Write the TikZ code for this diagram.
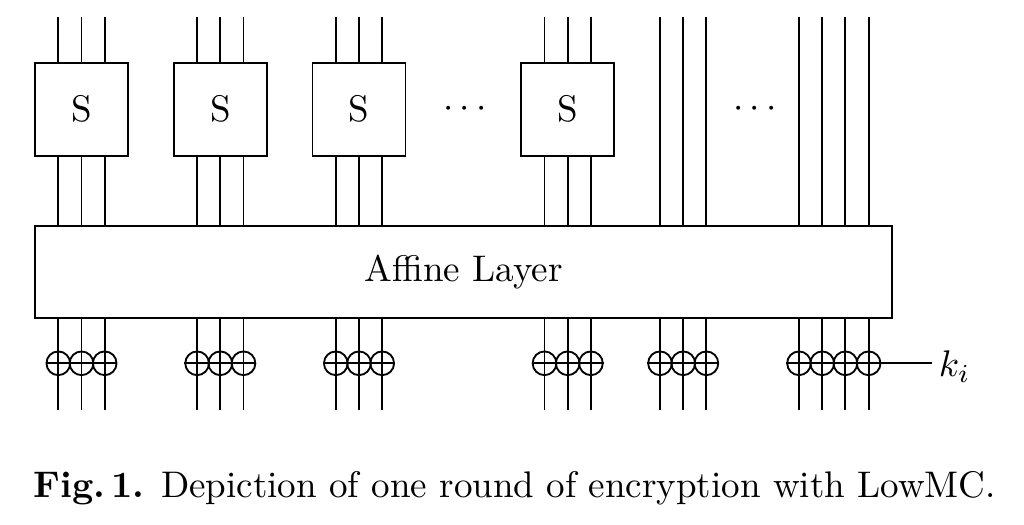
\documentclass[tikz,border=0pt]{standalone}
\usetikzlibrary{calc}
\tikzset{
    wire/.style={line width=0.5pt},
    sbox/.style={draw,line width=0.5pt,minimum width=25.1pt,minimum height=25.1pt,inner sep=0pt},
    affinebox/.style={draw,line width=0.5pt,minimum width=231.4pt,minimum height=24.8pt,inner sep=0pt},
    xorgate/.style={draw,circle,line width=0.5pt,minimum size=6.4pt,inner sep=0pt},
    captiontext/.style={anchor=base west,inner sep=0pt}
}

\begin{document}
\begin{tikzpicture}[x=0.27pt,y=-0.27pt]
    \useasboundingbox (0,0) rectangle (1024,525);
    % S-boxes
    \node[sbox] (s1) at (81.5,109.3) {S};
    \node[sbox] (s2) at (220.3,109.3) {S};
    \node[sbox] (s3) at (359,109.3) {S};
    \node[sbox] (s4) at (567.7,109.3) {S};
    \node (dots1) at (465,109.3) {$\cdots$};
    \node (dots2) at (755,109.3) {$\cdots$};
    % Affine layer
    \node[affinebox] (aff) at (463.5,272) {Affine Layer};
    % Wire tops and bottoms
    \foreach \i/\x in {1/58.3,2/81.5,3/104.7,4/197.1,5/220.3,6/243.5,
                       7/335.8,8/359,9/382.2,10/544.5,11/567.7,12/590.9,
                       13/660,14/683.2,15/706.4,16/799,17/822.2,18/845.4,19/868.6}
        \coordinate (w\i) at (\x,17.3);
    \coordinate (xrow) at (0,363.3);
    \coordinate (brow) at (0,410);
    % Wires through S-boxes
    \foreach \i/\s in {1/s1,2/s1,3/s1,4/s2,5/s2,6/s2,7/s3,8/s3,9/s3,10/s4,11/s4,12/s4} {
        \draw[wire] (w\i) -- (\s.north -| w\i);
        \draw[wire] (\s.south -| w\i) -- (aff.north -| w\i);
    }
    % Wires passing by
    \foreach \i in {13,...,19}
        \draw[wire] (w\i) -- (aff.north -| w\i);
    % Key addition
    \foreach \i in {1,...,19} {
        \node[xorgate] (x\i) at (w\i |- xrow) {};
        \draw[wire] (aff.south -| w\i) -- (w\i |- brow);
    }
    \draw[wire] (x1.west) -- (x3.east);
    \draw[wire] (x4.west) -- (x6.east);
    \draw[wire] (x7.west) -- (x9.east);
    \draw[wire] (x10.west) -- (x12.east);
    \draw[wire] (x13.west) -- (x15.east);
    \coordinate (keyend) at (932,363.3);
    \draw[wire] (x16.west) -- (keyend);
    \node[anchor=base west,inner sep=0pt] (key) at (938,377) {$k_i$};
    % Caption
    \node[captiontext] (cap) at (33,498) {\textbf{Fig.\,1.} Depiction of one round of encryption with LowMC.};
\end{tikzpicture}
\end{document}
